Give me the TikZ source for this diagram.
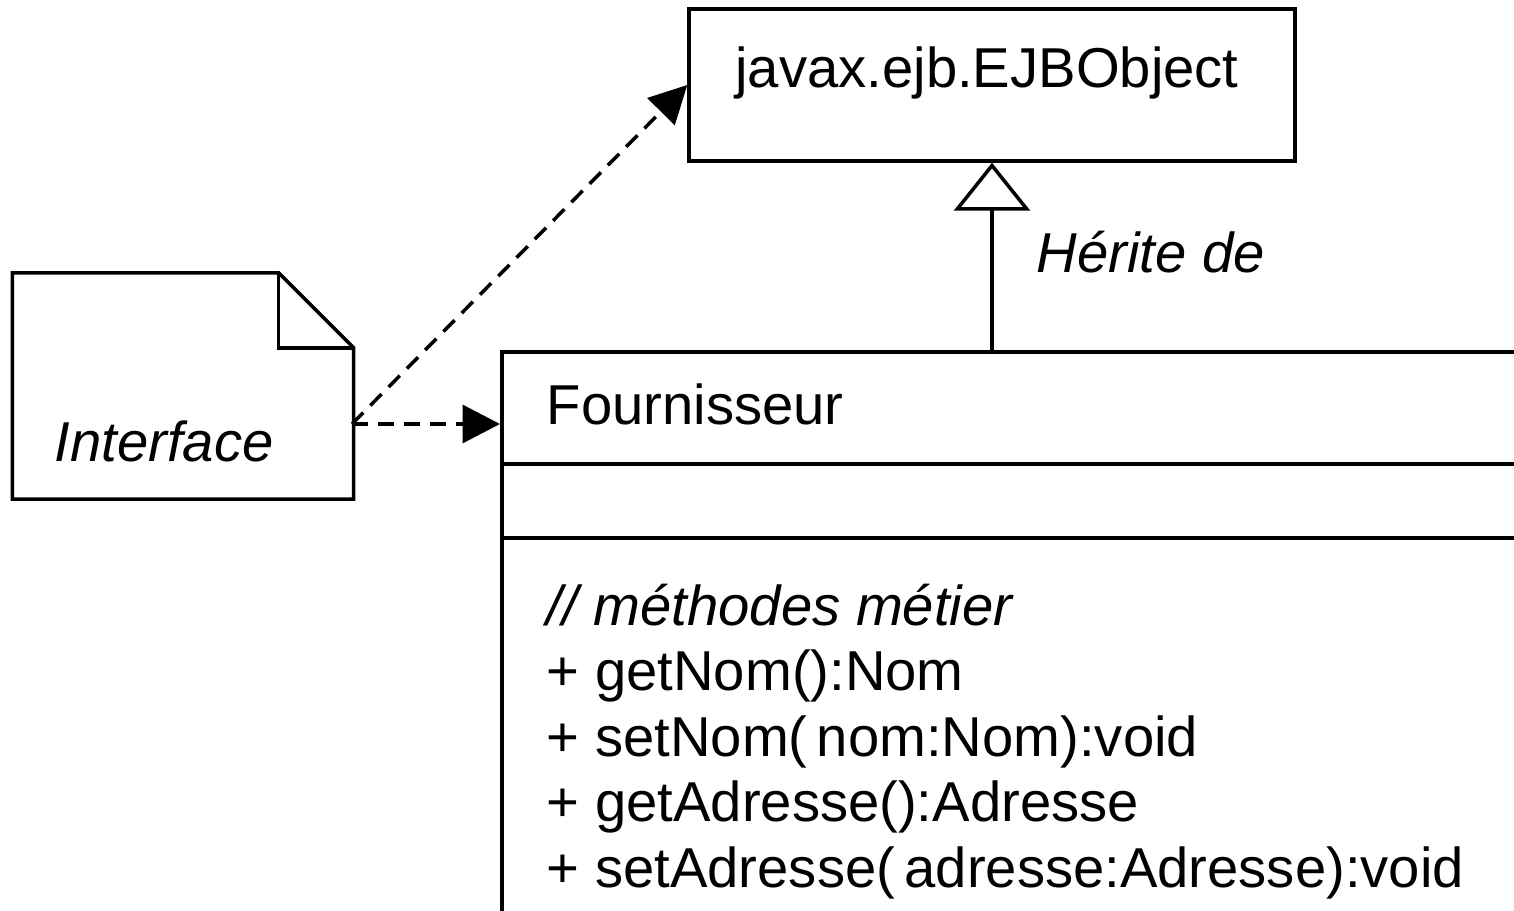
\documentclass[tikz,border=0pt]{standalone}
\usepackage{fontspec}
\setmainfont{Liberation Sans}
\usetikzlibrary{arrows.meta}

\begin{document}
\begin{tikzpicture}[x=0.02cm, y=-0.02cm, line width=2pt,
	txt/.style={font=\fontsize{32}{37.3}\selectfont, inner sep=0pt},
	classbox/.style={draw, rectangle, inner sep=0pt},
	dep/.style={dash pattern=on 0.32cm off 0.2cm, -{Triangle[length=0.75cm, width=0.76cm]}},
	herit/.style={-{Triangle[open, length=0.96cm, width=1.52cm]}}]

	\useasboundingbox (0,0) rectangle (1514,911);
	\clip (0,0) rectangle (1514,911);

	\node (ejb) [classbox, minimum width=12.12cm, minimum height=3.04cm] at (992, 85) {};
	\node (ejbname) [txt, anchor=base] at (987, 88) {javax.ejb.EJBObject};

	\node (fourn) [classbox, anchor=north west, minimum width=24cm, minimum height=14cm] at (500, 350) {};
	\node (fournname) [txt, anchor=base west] at (545, 425) {Fournisseur};
	\draw (500, 464) -- (1700, 464);
	\draw (500, 538) -- (1700, 538);

	\node (m0) [txt, anchor=base west] at (545, 625) {\itshape // méthodes métier};
	\node (m1) [txt, anchor=base west] at (545, 690.5) {+ getNom():Nom};
	\node (m2) [txt, anchor=base west] at (545, 756) {+ setNom(\,nom:Nom):void};
	\node (m3) [txt, anchor=base west] at (545, 821.5) {+ getAdresse():Adresse};
	\node (m4) [txt, anchor=base west] at (545, 887) {+ setAdresse(\,adresse:Adresse):void};

	\node (note) [inner sep=0pt, minimum width=6.76cm, minimum height=4.46cm] at (183, 386) {};
	\draw (note.north west) -- ([xshift=-1.5cm]note.north east) -- ([yshift=-1.5cm]note.north east)
		-- (note.south east) -- (note.south west) -- cycle;
	\draw ([xshift=-1.5cm]note.north east) |- ([yshift=-1.5cm]note.north east);
	\node (notename) [txt, anchor=base west] at (53, 462) {\itshape Interface};

	\coordinate (src) at (352, 424);

	\draw[dep] (src) -- (src -| fourn.west);
	\draw[dep] (src) -- (ejb.west);
	\draw[herit] (ejb.south |- fourn.north) -- (ejb.south);
	\node (heritlabel) [txt, anchor=base west] at (1035, 273) {\itshape Hérite de};

\end{tikzpicture}
\end{document}
